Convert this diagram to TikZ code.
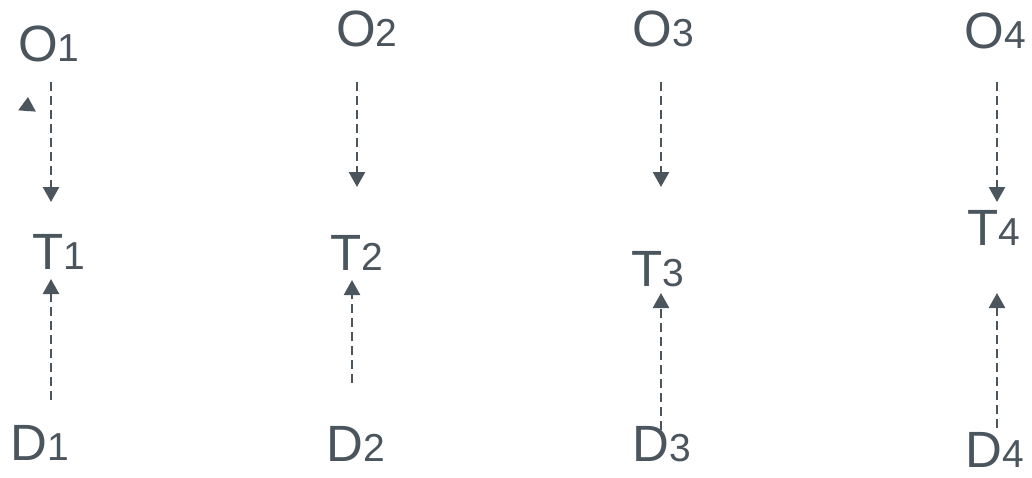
\documentclass[tikz,border=0pt]{standalone}
\usepackage{fontspec}
\setmainfont{Liberation Sans}
\usetikzlibrary{arrows.meta}
\definecolor{ink}{HTML}{4B555E}
\tikzset{
  lbl/.style={inner sep=0pt, anchor=base, text depth=0pt, text=ink, font=\fontsize{51}{51}\selectfont},
  conn/.style={draw=ink, line width=2.5pt, dash pattern=on 9pt off 5pt, -{Triangle[length=15pt,width=16pt]}},
  stray/.style={draw=ink, line width=2.5pt, -{Triangle[length=14pt,width=17pt]}},
}
\newcommand{\smdig}[1]{{\fontsize{39}{39}\selectfont #1}}
\begin{document}
\begin{tikzpicture}[x=1pt,y=-1pt]
\useasboundingbox (0,0) rectangle (1032,477);
% labels
\node[lbl] (O1) at (49,61) {O\smdig{1}};
\node[lbl] (T1) at (59,269) {T\smdig{1}};
\node[lbl] (D1) at (40,460) {D\smdig{1}};
\node[lbl] (O2) at (367,46) {O\smdig{2}};
\node[lbl] (T2) at (357,270) {T\smdig{2}};
\node[lbl] (D2) at (356,461) {D\smdig{2}};
\node[lbl] (O3) at (663,46) {O\smdig{3}};
\node[lbl] (T3) at (658,286) {T\smdig{3}};
\node[lbl] (D3) at (662,461) {D\smdig{3}};
\node[lbl] (O4) at (995,48) {O\smdig{4}};
\node[lbl] (T4) at (994,245) {T\smdig{4}};
\node[lbl] (D4) at (995,467) {D\smdig{4}};
% connector ends
\coordinate (o1s) at (51,82);  \coordinate (o1e) at (51,202);
\coordinate (d1s) at (51,400); \coordinate (d1e) at (51,279);
\coordinate (o2s) at (357,82); \coordinate (o2e) at (357,187);
\coordinate (d2s) at (352,383);\coordinate (d2e) at (352,280);
\coordinate (o3s) at (661,82); \coordinate (o3e) at (661,187);
\coordinate (d3s) at (661,430);\coordinate (d3e) at (661,293);
\coordinate (o4s) at (997,82); \coordinate (o4e) at (997,202);
\coordinate (d4s) at (997,428);\coordinate (d4e) at (997,293);
\coordinate (xs) at (27,111);  \coordinate (xe) at (28,97);
% connectors
\draw[conn] (o1s) -- (o1e);
\draw[conn] (d1s) -- (d1e);
\draw[conn] (o2s) -- (o2e);
\draw[conn] (d2s) -- (d2e);
\draw[conn] (o3s) -- (o3e);
\draw[conn] (d3s) -- (d3e);
\draw[conn] (o4s) -- (o4e);
\draw[conn] (d4s) -- (d4e);
\draw[stray] (xs) -- (xe);
\end{tikzpicture}
\end{document}
